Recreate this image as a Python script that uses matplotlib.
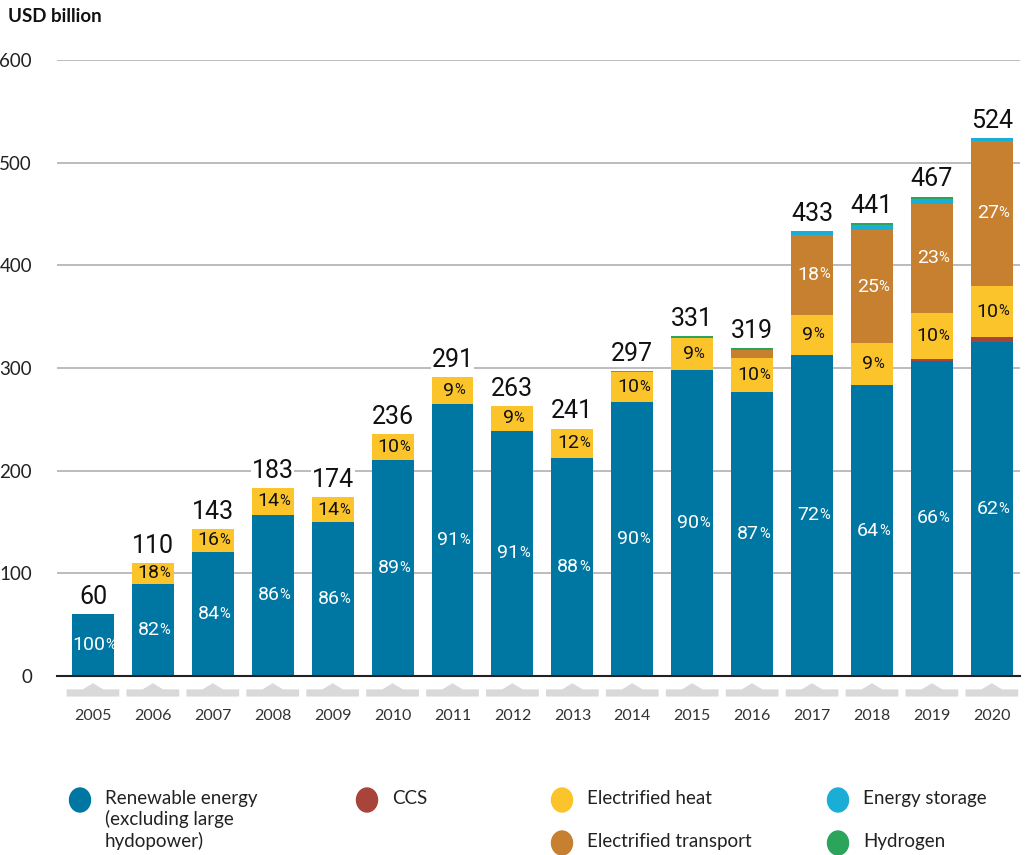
import numpy as np
import matplotlib
matplotlib.use("Agg")
import matplotlib.pyplot as plt
from matplotlib.patches import Polygon, Ellipse

years = [str(y) for y in range(2005, 2021)]
renewable = [60, 90, 121, 157, 150, 210, 265, 239, 212, 267, 298, 277, 313, 283, 307, 325]
ccs       = [0, 0, 0, 0, 0, 0, 0, 0, 0, 0, 0, 0, 0, 0, 2, 5]
heat      = [0, 20, 22, 26, 24, 26, 26, 24, 29, 29, 31, 33, 39, 41, 45, 50]
transport = [0, 0, 0, 0, 0, 0, 0, 0, 0, 0, 0, 8, 78, 110, 106, 141]
storage   = [0, 0, 0, 0, 0, 0, 0, 0, 0, 1, 0, 0, 3, 5, 5, 3]
hydrogen  = [0, 0, 0, 0, 0, 0, 0, 0, 0, 0, 2, 1, 0, 2, 2, 0]
totals    = [60, 110, 143, 183, 174, 236, 291, 263, 241, 297, 331, 319, 433, 441, 467, 524]

pct_renew = [100, 82, 84, 86, 86, 89, 91, 91, 88, 90, 90, 87, 72, 64, 66, 62]
pct_heat  = [None, 18, 16, 14, 14, 10, 9, 9, 12, 10, 9, 10, 9, 9, 10, 10]
pct_trans = [None] * 12 + [18, 25, 23, 27]

c_renew = "#0077A3"
c_ccs = "#A8443A"
c_heat = "#FBC42A"
c_trans = "#C77F30"
c_stor = "#1AAED6"
c_h2 = "#2BA55C"

plt.rcParams['font.family'] = ['Lato', 'DejaVu Sans']
cond = ['Roboto', 'DejaVu Sans']

fig = plt.figure(figsize=(10.26, 8.55), dpi=100)
ax = fig.add_axes([57 / 1026, 1 - 676 / 855, (1020 - 57) / 1026, (676 - 60) / 855])

x = np.arange(len(years))
w = 0.7
series = [(renewable, c_renew), (ccs, c_ccs), (heat, c_heat),
          (transport, c_trans), (storage, c_stor), (hydrogen, c_h2)]
bottom = np.zeros(len(years))
bottoms = {}
for vals, col in series:
    vals = np.array(vals, dtype=float)
    ax.bar(x, vals, w, bottom=bottom, color=col, zorder=3)
    bottoms[col] = bottom.copy()
    bottom = bottom + vals

ax.set_xlim(-0.6, 15.47)
ax.set_ylim(0, 600)
ax.set_yticks([0, 100, 200, 300, 400, 500, 600])
ax.yaxis.grid(True, color="#b0b0b0", linewidth=1.2, zorder=0)
ax.tick_params(axis='y', length=0, labelsize=13.5, pad=18, labelcolor="#222222")
ax.set_xticks([])
for s in ['top', 'right', 'left']:
    ax.spines[s].set_visible(False)
ax.spines['bottom'].set_color("#222222")
ax.spines['bottom'].set_linewidth(1.5)
ax.spines['bottom'].set_zorder(4)

# gray markers under each bar
for i in x:
    hw = 0.44
    ax.add_patch(Polygon([[i - hw, -13], [i - 0.17, -13], [i, -7], [i + 0.17, -13],
                          [i + hw, -13], [i + hw, -20], [i - hw, -20]],
                         closed=True, color="#d9d9d9", clip_on=False, lw=0))
    ax.text(i, -39, years[i], ha='center', va='center', fontsize=11.5, color="#333333")


def pct_label(xi, yc, val, color):
    t = ax.text(xi - 0.07, yc, str(val), ha='center', va='center', fontsize=14,
                family=cond, color=color, zorder=5)
    ax.annotate('%', xy=(1, 0.12), xycoords=t, xytext=(0, 0),
                textcoords='offset points', ha='left', va='bottom', fontsize=10.5,
                family=cond, color=color, zorder=5)


for i in x:
    pct_label(i, renewable[i] / 2, pct_renew[i], 'white')
    if pct_heat[i] is not None:
        b = bottoms[c_heat][i]
        pct_label(i, b + heat[i] / 2, pct_heat[i], '#111111')
    if pct_trans[i] is not None:
        b = bottoms[c_trans][i]
        pct_label(i, b + transport[i] / 2, pct_trans[i], 'white')
    ax.text(i, bottom[i] + 5, str(totals[i]), ha='center', va='bottom', fontsize=18,
            family=cond, color="#111111", zorder=6,
            bbox=dict(facecolor='white', edgecolor='none', pad=0.5))

fig.text(8 / 1026, 1 - 17 / 855, "USD billion", fontsize=13.5, fontweight='bold',
         ha='left', va='center', color="#111111")

# legend
lg = fig.add_axes([0, 0, 1, 1])
lg.set_xlim(0, 1026)
lg.set_ylim(855, 0)
lg.axis('off')
items = [
    (80, 800, c_renew, "Renewable energy\n(excluding large\nhydopower)"),
    (367, 800, c_ccs, "CCS"),
    (562, 800, c_heat, "Electrified heat"),
    (562, 843, c_trans, "Electrified transport"),
    (838, 800, c_stor, "Energy storage"),
    (838, 843, c_h2, "Hydrogen"),
]
for cx, cy, col, lab in items:
    lg.add_patch(Ellipse((cx, cy), 21, 24, color=col))
    lg.text(cx + 25, cy - 10, lab, ha='left', va='top', fontsize=13.5,
            color="#222222", linespacing=1.22)

fig.savefig("out.png", dpi=100)
